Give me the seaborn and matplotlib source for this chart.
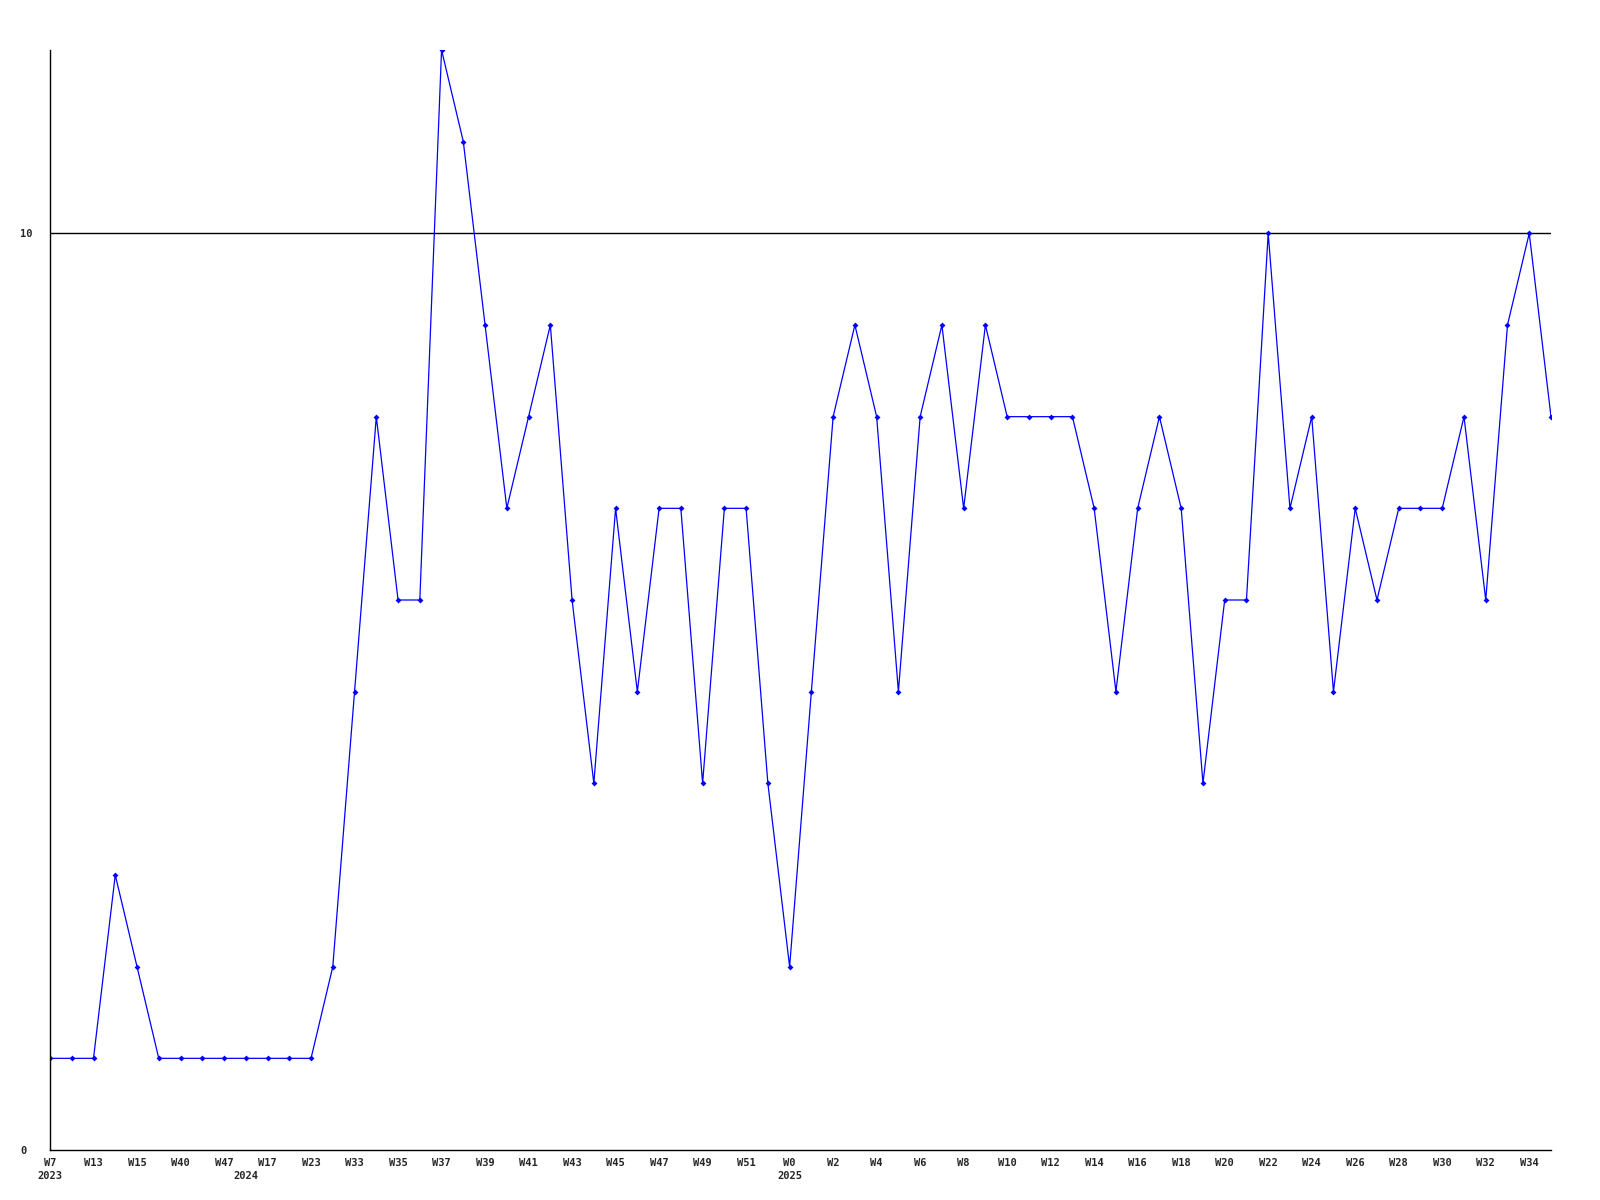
import matplotlib
matplotlib.use("Agg")
import matplotlib.pyplot as plt
import seaborn as sns
import pandas as pd

weeks = ["W7", "W12", "W13", "W14", "W15", "W39", "W40", "W46", "W47", "W16",
         "W17", "W22", "W23", "W32"] + [f"W{w}" for w in range(33, 53)] + [f"W{w}" for w in range(0, 36)]
years = {0: "2023", 9: "2024", 34: "2025"}
values = [1, 1, 1, 3, 2, 1, 1, 1, 1, 1,
          1, 1, 1, 2, 5, 8, 6, 6, 12, 11,
          9, 7, 8, 9, 6, 4, 7, 5, 7, 7,
          4, 7, 7, 4, 2, 5, 8, 9, 8, 5,
          8, 9, 7, 9, 8, 8, 8, 8, 7, 5,
          7, 8, 7, 4, 6, 6, 10, 7, 8, 5,
          7, 6, 7, 7, 7, 8, 6, 9, 10, 8]
ref_level = 10
ytick_vals = [0, 10]

df = pd.DataFrame({"idx": range(len(values)), "value": values})

sns.set_style("white")
plt.rcParams['font.family'] = ['DejaVu Sans Mono', 'DejaVu Sans']

fig = plt.figure(figsize=(16, 12), dpi=100)
ax = fig.add_axes([50 / 1600, 50 / 1200, 1501 / 1600, 1100 / 1200])

sns.lineplot(data=df, x="idx", y="value", ax=ax, color="#0000ff", linewidth=0.9,
             marker="D", markersize=3, markeredgewidth=0, markerfacecolor="#0000ff")
ax.axhline(ref_level, color="black", linewidth=1.0, zorder=0)

ax.set_xlim(0, len(values) - 1)
ax.set_ylim(0, 12)

labels = []
for i, w in enumerate(weeks[:len(values)]):
    top = w if i % 2 == 0 else ""
    yr = years.get(i, "")
    labels.append(top + ("\n" + yr if yr else ""))
ax.set_xticks(range(len(values)))
ax.set_xticklabels(labels, fontsize=7.5, fontweight="bold", linespacing=1.3)
ax.set_yticks(ytick_vals)
ax.set_yticklabels([str(v) for v in ytick_vals], fontsize=7.5, fontweight="bold")
ax.tick_params(axis="both", length=0, pad=6)
ax.tick_params(axis="y", pad=21.6)
for lab in ax.get_yticklabels():
    lab.set_horizontalalignment("left")
for lab in ax.get_xticklabels():
    lab.set_verticalalignment("top")

ax.set_xlabel("")
ax.set_ylabel("")
for s in ["top", "right"]:
    ax.spines[s].set_visible(False)
for s in ["left", "bottom"]:
    ax.spines[s].set_color("black")
    ax.spines[s].set_linewidth(1.0)

fig.savefig("out.png", dpi=100, facecolor="white")
